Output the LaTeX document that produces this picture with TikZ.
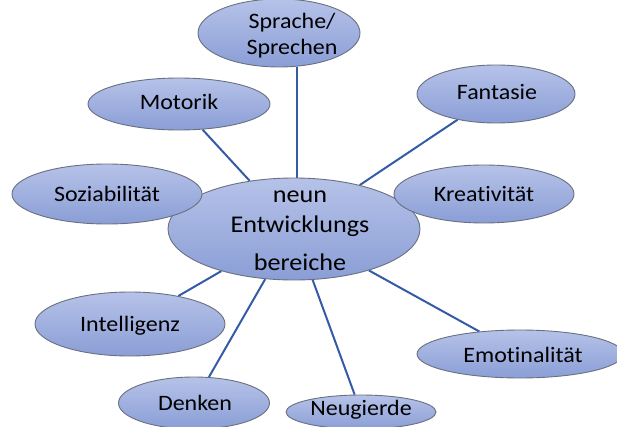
\documentclass[tikz,border=0pt]{standalone}
\usepackage{fontspec}
\setmainfont{Carlito}[FakeStretch=1.09,Ligatures=NoCommon]
\usetikzlibrary{shapes.geometric,backgrounds}
\definecolor{bubtop}{RGB}{182,194,232}
\definecolor{bubbot}{RGB}{138,158,214}
\definecolor{bubline}{RGB}{105,112,128}
\definecolor{connc}{RGB}{54,91,166}
\tikzset{
  bub/.style={ellipse, draw=bubline, line width=0.9pt, top color=bubtop, bottom color=bubbot, inner sep=0pt},
  lbl/.style={anchor=base, inner sep=0pt, font=\fontsize{22}{26}\selectfont, align=center},
  clbl/.style={anchor=base, inner sep=0pt, font=\fontsize{24}{30}\selectfont, align=center},
  conn/.style={draw=connc, line width=2pt}
}
\begin{document}
\begin{tikzpicture}[x=1pt,y=-1pt]
\useasboundingbox (0,0) rectangle (617,427);
% centre
\node[bub, minimum width=252pt, minimum height=102pt] (c) at (294,229) {};
% outer bubbles
\node[bub, minimum width=162pt, minimum height=68pt] (spr) at (279,33) {};
\node[bub, minimum width=182pt, minimum height=52pt] (mot) at (179,104) {};
\node[bub, minimum width=158pt, minimum height=58pt] (fan) at (496,94) {};
\node[bub, minimum width=190pt, minimum height=60pt] (soz) at (107,194) {};
\node[bub, minimum width=180pt, minimum height=58pt] (kre) at (484,194) {};
\node[bub, minimum width=190pt, minimum height=64pt] (int) at (130,324) {};
\node[bub, minimum width=206pt, minimum height=48pt] (emo) at (520,354) {};
\node[bub, minimum width=151pt, minimum height=52pt] (den) at (194,403) {};
\node[bub, minimum width=150pt, minimum height=34pt] (neu) at (361,412) {};
% texts
\node[clbl] (ct) at (300,270) {neun\\Entwicklungs\\[8pt]bereiche};
\node[lbl] (sprt) at (292,55) {Sprache/\\Sprechen};
\node[lbl] (mott) at (179,110) {Motorik};
\node[lbl] (fant) at (497,100) {Fantasie};
\node[lbl] (sozt) at (107,202) {Soziabilität};
\node[lbl] (kret) at (484,202) {Kreativität};
\node[lbl] (intt) at (130,331) {Intelligenz};
\node[lbl] (emot) at (523,362) {Emotinalität};
\node[lbl] (dent) at (195,410) {Denken};
\node[lbl] (neut) at (361,415) {Neugierde};
% connectors
\coordinate (sx) at (297,0);
\begin{pgfonlayer}{background}
\fill[white] (0,0) rectangle (617,427);
\draw[conn] (c.north -| sx) -- (spr.south -| sx);
\draw[conn] (c) -- (mot);
\draw[conn] (c) -- (fan);
\draw[conn] (c) -- (int);
\draw[conn] (c) -- (den);
\draw[conn] (c) -- (neu);
\draw[conn] (c) -- (emo);
\end{pgfonlayer}
\end{tikzpicture}
\end{document}
